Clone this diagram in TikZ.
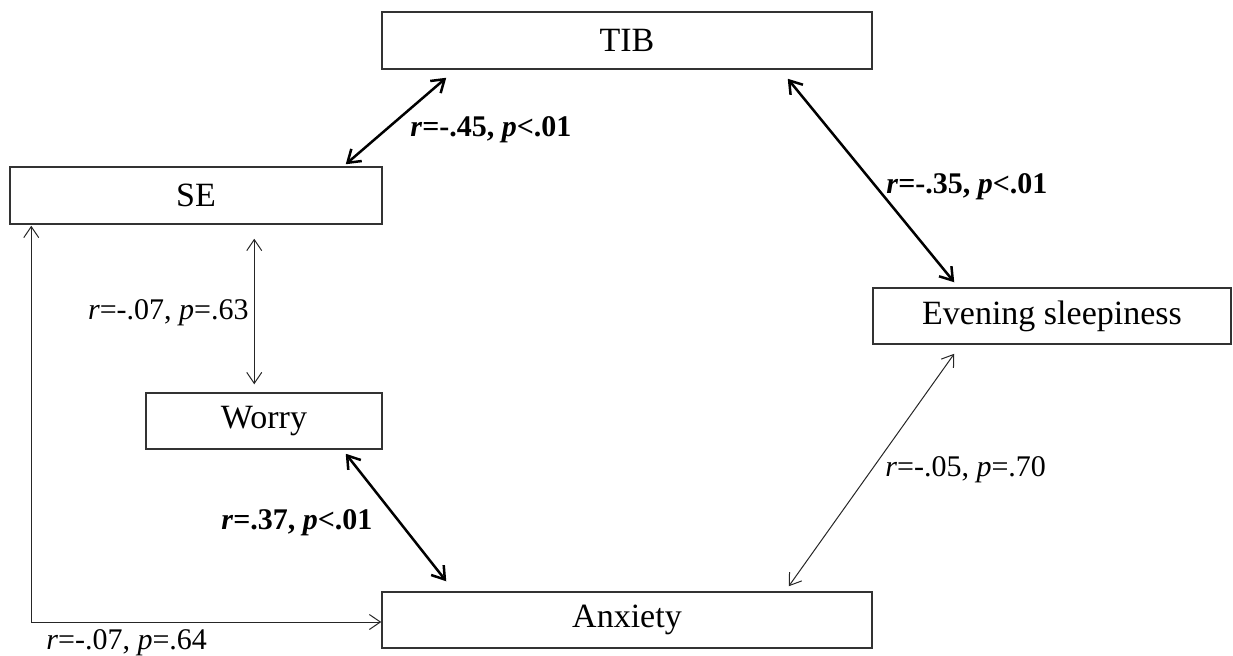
\documentclass[tikz,border=0pt]{standalone}
\usepackage{fontspec}
\setmainfont{Liberation Serif}
\usetikzlibrary{arrows.meta,calc}
\begin{document}
\begin{tikzpicture}[x=0.5pt,y=-0.5pt,
  var/.style={draw=black!80, line width=0.75pt, rectangle, inner sep=0pt,
    font=\fontsize{17}{20}\selectfont},
  strong/.style={line width=1.25pt,
    {Straight Barb[length=6pt,width=8pt,line width=1.25pt]}-{Straight Barb[length=6pt,width=8pt,line width=1.25pt]}},
  weak/.style={line width=0.5pt, draw=black!85,
    {Straight Barb[length=5.5pt,width=7.5pt,line width=0.5pt]}-{Straight Barb[length=5.5pt,width=7.5pt,line width=0.5pt]}},
  stat/.style={inner sep=0pt, font=\fontsize{15}{18}\selectfont},
  ]
\useasboundingbox (0,0) rectangle (1233,655);

% variables
\node[var, minimum width=245pt, minimum height=28.5pt] (tib) at (627,40.5) {TIB};
\node[var, minimum width=186pt, minimum height=28.5pt] (se) at (196,195.5) {SE};
\node[var, minimum width=118pt, minimum height=28pt] (worry) at (264,421) {Worry};
\node[var, minimum width=179pt, minimum height=28pt] (es) at (1052,316) {Evening sleepiness};
\node[var, minimum width=245pt, minimum height=28pt] (anx) at (627,620) {Anxiety};

% correlations
\draw[strong] ($(tib.south west)+(65,8)$) -- ($(se.north east)+(-37,-2)$);
\draw[strong] ($(tib.south east)+(-85,9)$) -- ($(es.north west)+(82,-5)$);
\draw[weak] ($(se.south west)+(245,14)$) -- ($(worry.north west)+(109,-8)$);
\draw[strong] ($(worry.south east)+(-37,4)$) -- ($(anx.north west)+(65,-10)$);
\draw[weak] ($(es.south west)+(82,9)$) -- ($(anx.north east)+(-84,-5)$);
\draw[weak] ($(se.south west)+(22,1)$) |- ($(anx.west)+(0,2)$);

% coefficients
\node[stat, anchor=west] (l1) at (410,130) {\textbf{\textit{r}=-.45, \textit{p}<.01}};
\node[stat, anchor=west] (l2) at (886,187) {\textbf{\textit{r}=-.35, \textit{p}<.01}};
\node[stat, anchor=east] (l3) at (249,313) {\textit{r}=-.07, \textit{p}=.63};
\node[stat, anchor=west] (l4) at (221,523) {\textbf{\textit{r}=.37, \textit{p}<.01}};
\node[stat, anchor=west] (l5) at (885,470) {\textit{r}=-.05, \textit{p}=.70};
\node[stat, anchor=west] (l6) at (46,643) {\textit{r}=-.07, \textit{p}=.64};
\end{tikzpicture}
\end{document}
